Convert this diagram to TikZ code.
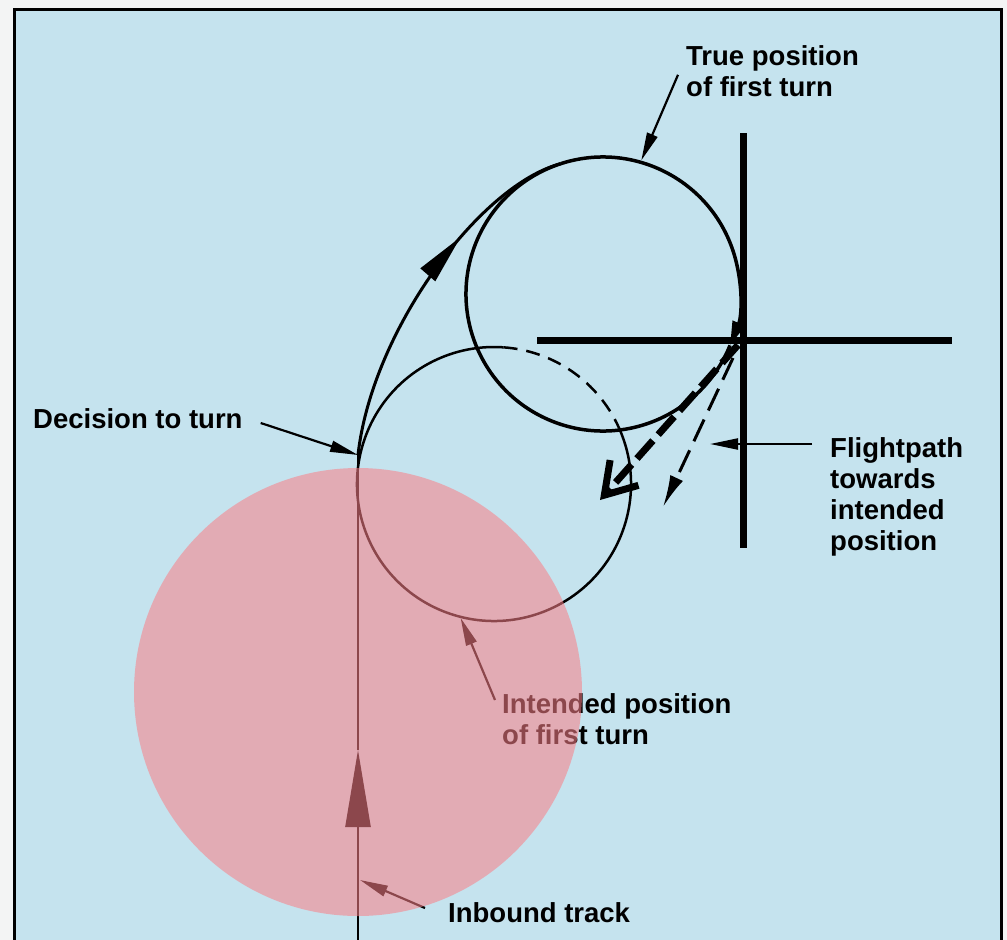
\documentclass[tikz,border=0pt]{standalone}
\usepackage{fontspec}
\setmainfont{Liberation Sans}
\usetikzlibrary{arrows.meta,calc,decorations.markings}
\definecolor{mySky}{RGB}{197,227,238}
\definecolor{myRose}{RGB}{250,128,136}
\definecolor{myPaper}{RGB}{243,244,244}
\tikzset{
myLabel/.style={
	font=\bfseries\fontsize{27.5}{31}\selectfont,
	inner sep=0pt, align=left, text=black
}
% lines
, myTrack/.style={line width=2.5pt}
, myPath/.style={line width=3pt,
	decoration={markings, mark=at position 0.66 with {\arrow{Triangle[length=50pt,width=19pt]}}},
	postaction={decorate}
}
, myTrue/.style={line width=3.5pt}
, myIntended/.style={line width=2.5pt}
, myCross/.style={line width=7pt}
% arrows
, myPointer/.style={-{Triangle[length=28pt,width=11pt]},line width=2.2pt}
, myHeavy/.style={line width=7pt,dash pattern=on 24pt off 8pt,-{Straight Barb[length=30pt,width=38pt]}}
, myThin/.style={line width=3pt,dash pattern=on 24pt off 10pt,-{Latex[length=32pt,width=14pt]}}
, myZone/.style={fill=myRose,fill opacity=0.56}
}
\begin{document}
\begin{tikzpicture}[x=1pt,y=-1pt]
	\useasboundingbox (0,0) rectangle (1007,940);
	% frame
	\fill[myPaper] (0,0) rectangle (1007,940);
	\fill[mySky] (14,9) rectangle (1002,940);
	\draw[line width=3pt] (14,940) -- (14,9) -- (1001,9) -- (1001,940);

	% points
	\coordinate (trueC) at (603,294);
	\coordinate (intC) at (494,484);
	\coordinate (decision) at (358,455);
	\coordinate (trackEnd) at (358,942);
	\coordinate (trackTip) at (358,750);
	\coordinate (merge) at ($(trueC)+(-108:137)$);
	\coordinate (blob) at ($(trueC)+(22:137)$);
	\coordinate (crossing) at (743,340);

	% inbound track
	\draw[myTrack,-{Triangle[length=77pt,width=25pt]}] (trackEnd) -- (trackTip);
	\draw[myTrack] (trackTip) -- (decision);

	% turn towards true position
	\draw[myPath] (decision) .. controls (372,330) and (480,185) .. (merge);
	\draw[myTrue,-{Triangle[length=24pt,width=13pt]}] (merge) arc[start angle=-108,end angle=22,radius=137];
	\draw[myTrue] (blob) arc[start angle=22,end angle=252,radius=137];

	% intended turn
	\draw[myIntended] ($(intC)+(-24:137)$) arc[start angle=-24,end angle=274,radius=137];
	\draw[myIntended,dash pattern=on 14pt off 9pt] ($(intC)+(-86:137)$) arc[start angle=-86,end angle=-24,radius=137];

	% cross
	\draw[myCross] (743,133) -- (743,548);
	\draw[myCross] (537,340) -- (952,340);

	% flightpaths
	\draw[myHeavy] ($(crossing)+(-5,5)$) -- (600,500);
	\draw[myThin] ($(crossing)+(-10,18)$) -- (663,507);

	% labels
	\node[myLabel,anchor=north west] (trueLbl) at (686,45) {True position\\of first turn};
	\node[myLabel,anchor=base west] (decisionLbl) at (33,428) {Decision to turn};
	\node[myLabel,anchor=north west] (flightLbl) at (830,437) {Flightpath\\towards\\intended\\position};
	\node[myLabel,anchor=north west] (intendedLbl) at (502,693) {Intended position\\of first turn};
	\node[myLabel,anchor=base west] (inboundLbl) at (448,922) {Inbound track};

	% pointers
	\draw[myPointer] ([xshift=-8pt,yshift=-4pt]trueLbl.west) -- ($(trueC)+(-74:139)$);
	\draw[myPointer] ([xshift=18pt,yshift=5pt]decisionLbl.base east) -- (decision);
	\draw[myPointer] ($(flightLbl.north west)+(-18,7)$) -- (710,444);
	\draw[myPointer] ($(intendedLbl.north west)+(-7,7)$) -- ($(intC)+(104:138)$);
	\draw[myPointer] ($(inboundLbl.base west)+(-23,-14)$) -- (360,880);

	% zone
	\fill[myZone] (358,692) circle[radius=224];
\end{tikzpicture}
\end{document}
